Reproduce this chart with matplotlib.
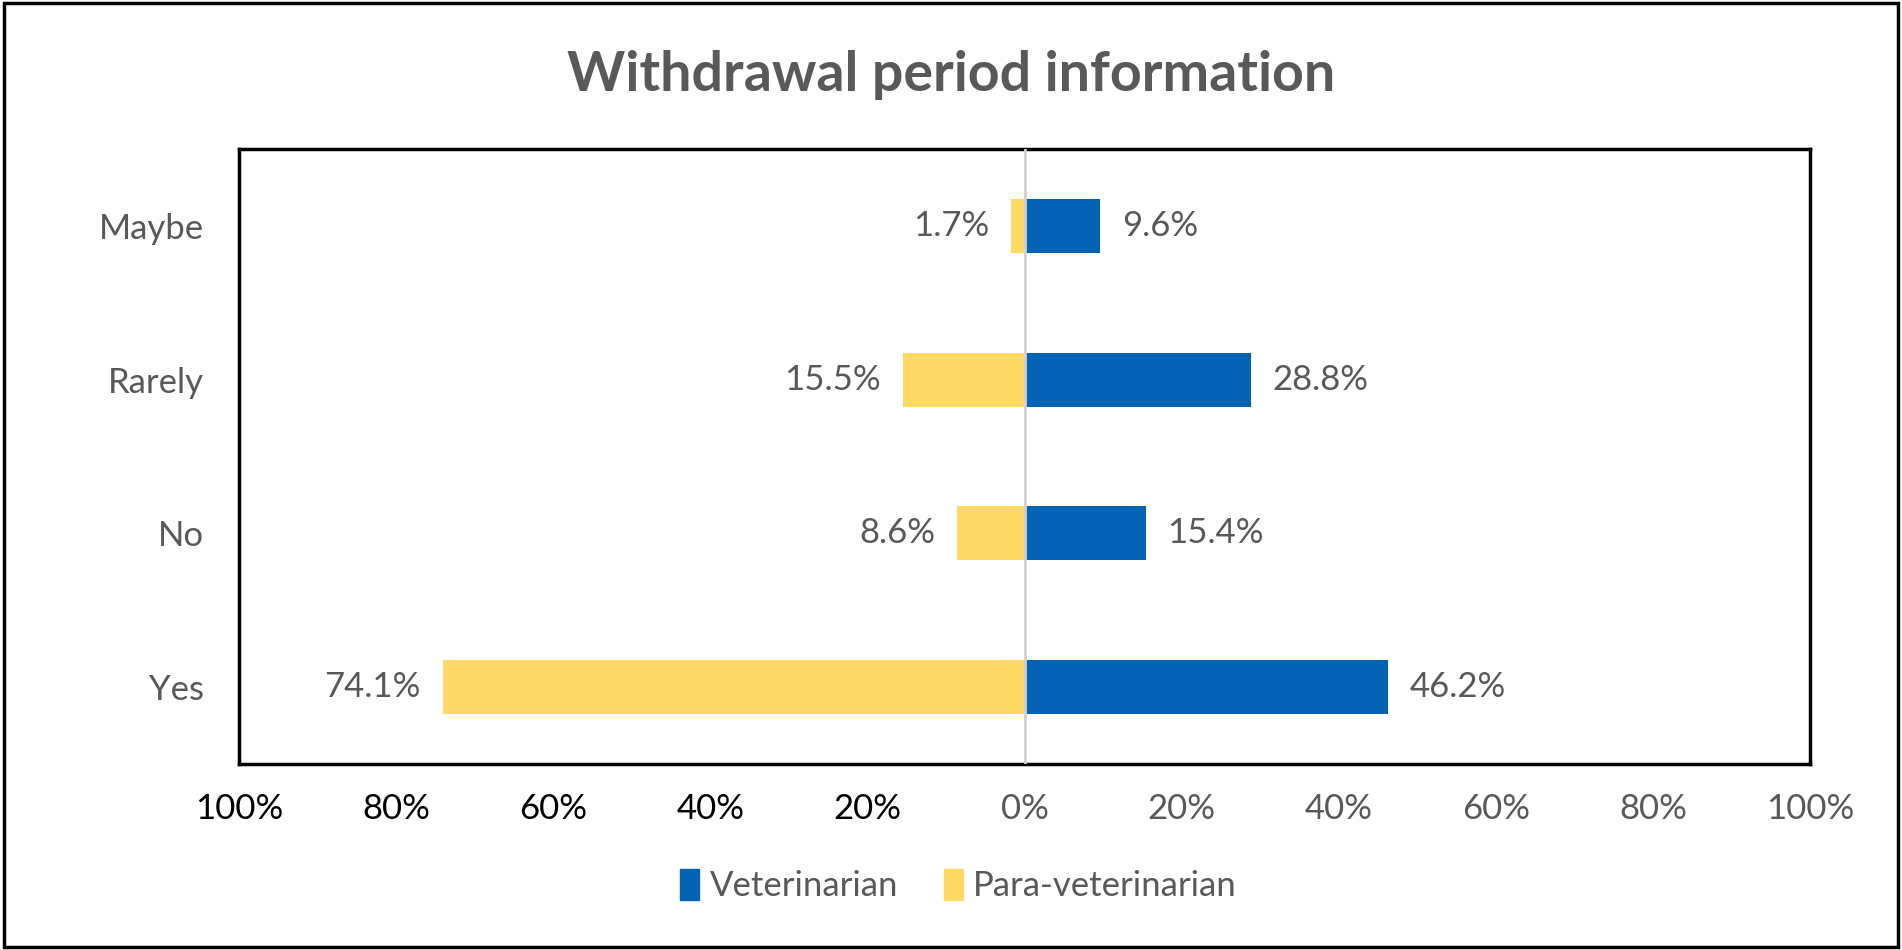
import matplotlib
matplotlib.use("Agg")
import matplotlib.pyplot as plt
from matplotlib.patches import Rectangle, Patch

categories = ["Yes", "No", "Rarely", "Maybe"]
veterinarian = [46.2, 15.4, 28.8, 9.6]
para_veterinarian = [74.1, 8.6, 15.5, 1.7]
xticks = [-100, -80, -60, -40, -20, 0, 20, 40, 60, 80, 100]
xtick_labels = ["100%", "80%", "60%", "40%", "20%", "0%", "20%", "40%", "60%", "80%", "100%"]

BLUE = "#0563B5"
YELLOW = "#FFD966"
GRAY = "#595959"
FONT = "Lato"
FS = 25

fig = plt.figure(figsize=(19.02, 9.5), dpi=100)
fig.patches.append(Rectangle((0.002, 0.003), 0.996, 0.994, transform=fig.transFigure,
                             fill=False, edgecolor="black", linewidth=2.5))

ax = fig.add_axes([0.1257, 0.1958, 0.826, 0.6474])
y = list(range(len(categories)))
ax.barh(y, veterinarian, height=0.35, color=BLUE, label="Veterinarian", zorder=2)
ax.barh(y, [-v for v in para_veterinarian], height=0.35, color=YELLOW,
        label="Para-veterinarian", zorder=2)
ax.axvline(0, color="#D0D0D0", linewidth=2, zorder=3)

for yi, v in zip(y, veterinarian):
    ax.text(v + 2.8, yi, f"{v:.1f}%", va="center", ha="left", fontsize=FS,
            color=GRAY, family=FONT)
for yi, v in zip(y, para_veterinarian):
    ax.text(-v - 2.8, yi, f"{v:.1f}%", va="center", ha="right", fontsize=FS,
            color=GRAY, family=FONT)

ax.set_xlim(-100, 100)
ax.set_ylim(-0.5, 3.5)
ax.set_yticks(y)
ax.set_yticklabels(categories, fontsize=FS, color=GRAY, family=FONT)
ax.set_xticks(xticks)
ax.set_xticklabels(xtick_labels, fontsize=FS, family=FONT)
for lbl, t in zip(ax.get_xticklabels(), xticks):
    lbl.set_color("black" if t < 0 else GRAY)
ax.tick_params(axis="both", length=0)
ax.tick_params(axis="x", pad=21)
ax.tick_params(axis="y", pad=25)
for s in ax.spines.values():
    s.set_linewidth(2.5)
    s.set_color("black")

fig.text(0.5, 0.921, "Withdrawal period information", ha="center", va="center",
         fontsize=40, fontweight="bold", color=GRAY, family=FONT)

handles = [Patch(color=BLUE, label="Veterinarian"), Patch(color=YELLOW, label="Para-veterinarian")]
leg = fig.legend(handles=handles, loc="center", bbox_to_anchor=(0.504, 0.068), ncol=2,
                 frameon=False, handlelength=0.55, handleheight=1.0, handletextpad=0.3,
                 columnspacing=1.3, prop={"family": FONT, "size": FS})
for t in leg.get_texts():
    t.set_color(GRAY)

fig.savefig("out.png", dpi=100)
